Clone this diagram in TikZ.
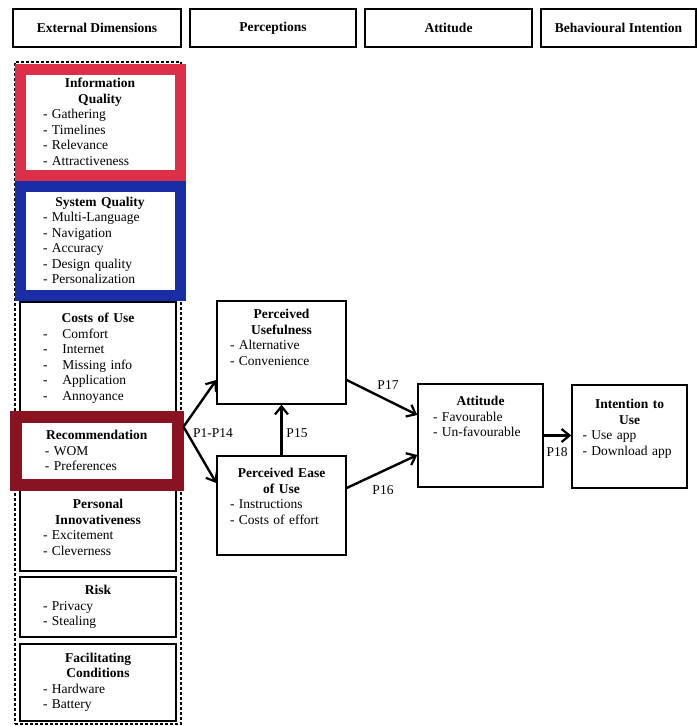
\documentclass[tikz,border=0pt]{standalone}
\usepackage{fontspec}
\setmainfont{Liberation Serif}
\usetikzlibrary{positioning,arrows.meta}

\definecolor{infored}{HTML}{DC2F48}
\definecolor{sysblue}{HTML}{1B2DA6}
\definecolor{recred}{HTML}{8A1322}

\begin{document}
\begin{tikzpicture}[x=1pt, y=-1pt,
        headbox/.style={draw=black, line width=1.8pt, minimum height=38pt, fill=white, font=\fontsize{13.5}{15}\selectfont\bfseries},
        dimbox/.style={draw=black, line width=1.4pt, fill=white, align=left, text width=110pt, inner xsep=23pt, font=\fontsize{13.5}{15.5}\selectfont},
        framebox/.style={draw=black, line width=1.4pt, fill=white},
        boxtext/.style={inner sep=0pt, align=left, font=\fontsize{13.5}{15.5}\selectfont},
        plabel/.style={inner sep=1pt, font=\fontsize{13.5}{15.5}\selectfont},
        link/.style={-{Straight Barb[length=8pt, width=13pt, line width=2.2pt]}, line width=2.4pt}]

        \useasboundingbox (0,0) rectangle (697,726);

        % column headings
        \node[headbox, minimum width=168pt] (hExt) at (97,28) {External Dimensions};
        \node[headbox, minimum width=166pt] (hPer) at (273,28) {Perceptions};
        \node[headbox, minimum width=167pt] (hAtt) at (448.5,28) {Attitude};
        \node[headbox, minimum width=155pt] (hBeh) at (618.5,28) {Behavioural Intention};

        % external dimensions
        \node[draw=black, line width=1.4pt, densely dashed, minimum width=166pt, minimum height=662pt] (dims) at (98,393) {};
        \node[dimbox, draw=infored, line width=11pt, text width=114pt, minimum height=106pt] (info) at (100,122)
            {{\centering\bfseries Information\\Quality\par}- Gathering\\- Timelines\\- Relevance\\- Attractiveness};
        \node[dimbox, draw=sysblue, line width=11pt, text width=114pt, minimum height=109pt] (sysq) at (100,240.5)
            {{\centering\bfseries System Quality\par}- Multi-Language\\- Navigation\\- Accuracy\\- Design quality\\- Personalization};
        \node[dimbox, minimum height=112pt] (costs) at (98,358)
            {{\centering\bfseries Costs of Use\par}-\hspace{15pt}Comfort\\-\hspace{15pt}Internet\\-\hspace{15pt}Missing info\\-\hspace{15pt}Application\\-\hspace{15pt}Annoyance};
        \node[dimbox, minimum height=87pt] (innov) at (98,527.5)
            {{\centering\bfseries Personal\\Innovativeness\par}- Excitement\\- Cleverness};
        \node[dimbox, draw=recred, line width=12pt, text width=103.5pt, inner xsep=29pt, minimum height=68.5pt] (rec) at (96.75,450.75)
            {{\centering\bfseries Recommendation\par}- WOM\\- Preferences};
        \node[dimbox, minimum height=60pt] (risk) at (98,607)
            {{\centering\bfseries Risk\par}- Privacy\\- Stealing};
        \node[dimbox, minimum height=77pt] (facil) at (98,682.5)
            {{\centering\bfseries Facilitating\\Conditions\par}- Hardware\\- Battery};

        % perceptions, attitude, intention
        \node[framebox, minimum width=129pt, minimum height=103pt] (pu) at (281.5,352.5) {};
        \node[boxtext, text width=103pt, below=9pt of pu.north] (puText)
            {{\centering\bfseries Perceived\\Usefulness\par}- Alternative\\- Convenience};
        \node[framebox, minimum width=129pt, minimum height=99pt] (peou) at (281.5,505.5) {};
        \node[boxtext, text width=103pt, below=13pt of peou.north] (peouText)
            {{\centering\bfseries Perceived Ease\\of Use\par}- Instructions\\- Costs of effort};
        \node[framebox, minimum width=125pt, minimum height=103pt] (att) at (480.5,435.5) {};
        \node[boxtext, text width=95pt, below=13pt of att.north] (attText)
            {{\centering\bfseries Attitude\par}- Favourable\\- Un-favourable};
        \node[framebox, minimum width=115pt, minimum height=103pt] (intent) at (629.5,436.5) {};
        \node[boxtext, text width=94pt, below=15pt of intent.north] (intentText)
            {{\centering\bfseries Intention to\\Use\par}- Use app\\- Download app};

        \draw[link] ([yshift=24pt]rec.east) -- ([yshift=-27.5pt]pu.west);
        \draw[link] ([yshift=24pt]rec.east) -- ([yshift=22.5pt]peou.west);
        \draw[link] (peou.north) -- (pu.south);
        \draw[link] ([yshift=-27.5pt]pu.east) -- ([yshift=20.5pt]att.west);
        \draw[link] ([yshift=17.5pt]peou.east) -- ([yshift=-19.5pt]att.west);
        \draw[link] (att.east) -- (att.east -| intent.west);

        \node[plabel] (lP1) at (213,433) {P1-P14};
        \node[plabel] (lP15) at (297,433) {P15};
        \node[plabel] (lP17) at (388,385) {P17};
        \node[plabel] (lP16) at (383,490) {P16};
        \node[plabel] (lP18) at (557,452) {P18};
    \end{tikzpicture}
\end{document}
